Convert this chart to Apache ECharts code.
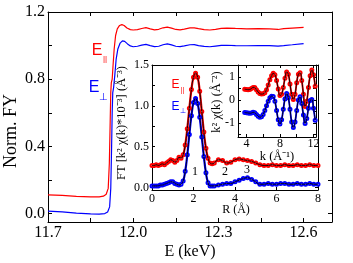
<!DOCTYPE html>
<html><head><meta charset="utf-8">
<script src="https://cdn.jsdelivr.net/npm/echarts@6/dist/echarts.min.js"></script>
<style>html,body{margin:0;padding:0;background:#fff}#c{width:353px;height:263px}</style>
</head><body><div id="c"></div>
<script>
// ---- Main XANES (E in keV, normalized FY) ----
const xanesPar = [[11.70,0.112],[11.75,0.108],[11.80,0.103],[11.85,0.100],[11.88,0.100],[11.895,0.104],[11.905,0.115],[11.912,0.15],[11.916,0.30],[11.919,0.55],[11.921,0.72],[11.923,0.78],[11.926,0.80],[11.929,0.88],[11.933,0.98],[11.938,1.06],[11.944,1.10],[11.952,1.12],[11.960,1.125],[11.968,1.12],[11.978,1.105],[11.99,1.095],[12.00,1.093],[12.015,1.095],[12.03,1.102],[12.045,1.107],[12.06,1.100],[12.075,1.094],[12.09,1.097],[12.105,1.106],[12.12,1.110],[12.135,1.104],[12.15,1.096],[12.165,1.094],[12.18,1.098],[12.20,1.105],[12.215,1.106],[12.23,1.101],[12.25,1.095],[12.27,1.093],[12.29,1.097],[12.31,1.102],[12.33,1.104],[12.36,1.102],[12.40,1.100],[12.44,1.101],[12.48,1.100],[12.51,1.096],[12.53,1.101],[12.56,1.104],[12.60,1.108]];
const xanesPerp = [[11.70,0.015],[11.75,0.010],[11.80,0.003],[11.85,-0.002],[11.88,-0.003],[11.90,0.000],[11.91,0.010],[11.917,0.04],[11.921,0.15],[11.924,0.40],[11.926,0.60],[11.928,0.72],[11.931,0.75],[11.935,0.82],[11.940,0.92],[11.946,0.98],[11.954,1.015],[11.962,1.028],[11.970,1.025],[11.980,1.010],[11.99,0.998],[12.00,0.993],[12.015,0.996],[12.03,1.003],[12.045,1.007],[12.06,1.000],[12.075,0.994],[12.09,0.996],[12.105,1.005],[12.12,1.010],[12.135,1.004],[12.15,0.996],[12.165,0.994],[12.18,0.998],[12.20,1.005],[12.215,1.006],[12.23,1.000],[12.25,0.995],[12.27,0.993],[12.29,0.997],[12.31,1.001],[12.33,1.002],[12.36,1.000],[12.40,0.999],[12.44,1.000],[12.48,1.000],[12.51,0.997],[12.53,1.000],[12.56,1.005],[12.60,1.012]];

// ---- FT inset (R in Angstrom) ----
const ftR    = [0.0,0.1,0.2,0.3,0.4,0.5,0.6,0.7,0.8,0.9,1.0,1.1,1.2,1.3,1.4,1.5,1.6,1.7,1.8,1.9,2.0,2.1,2.2,2.3,2.4,2.5,2.6,2.7,2.8,2.9,3.0,3.2,3.4,3.6,3.8,4.0,4.2,4.4,4.6,4.8,5.0,5.2,5.4,5.6,5.8,6.0,6.2,6.4,6.6,6.8,7.0,7.2,7.4,7.6,7.8,8.0];
const ftPar  = [0.27,0.27,0.28,0.27,0.28,0.29,0.28,0.30,0.32,0.34,0.33,0.31,0.33,0.37,0.36,0.40,0.52,0.72,0.97,1.20,1.35,1.40,1.35,1.18,0.93,0.68,0.48,0.36,0.30,0.29,0.30,0.34,0.33,0.30,0.31,0.34,0.35,0.34,0.33,0.32,0.30,0.28,0.27,0.27,0.28,0.27,0.27,0.28,0.27,0.27,0.28,0.27,0.27,0.28,0.27,0.27];
const ftPerp = [0.02,0.02,0.02,0.02,0.03,0.03,0.04,0.05,0.06,0.07,0.07,0.05,0.04,0.03,0.04,0.08,0.20,0.40,0.65,0.88,1.04,1.09,1.03,0.86,0.62,0.38,0.18,0.06,0.02,0.02,0.02,0.03,0.04,0.05,0.05,0.07,0.09,0.11,0.12,0.10,0.07,0.04,0.04,0.05,0.04,0.04,0.05,0.05,0.04,0.04,0.05,0.04,0.04,0.05,0.04,0.04];

// ---- k-space inset ----
const kVals  = [3.8,4.0,4.2,4.4,4.6,4.8,5.0,5.2,5.4,5.6,5.8,6.0,6.2,6.4,6.6,6.8,7.0,7.2,7.4,7.6,7.8,8.0,8.2,8.4,8.6,8.8,9.0,9.2,9.4,9.6,9.8,10.0,10.2,10.4,10.6,10.8,11.0,11.2,11.4,11.6,11.8,12.0,12.2];
const kPar   = [0.47,0.46,0.45,0.46,0.50,0.55,0.54,0.45,0.35,0.28,0.26,0.27,0.32,0.45,0.65,0.88,1.05,1.16,1.10,0.85,0.48,0.20,0.25,0.55,0.95,1.22,1.12,0.70,0.25,0.03,0.25,0.75,1.12,1.18,0.85,0.25,-0.28,-0.05,0.55,1.05,1.30,1.10,0.60];
const kPerp  = [-0.54,-0.55,-0.56,-0.57,-0.56,-0.53,-0.55,-0.62,-0.70,-0.74,-0.72,-0.62,-0.45,-0.25,-0.05,0.10,0.17,0.15,-0.05,-0.45,-0.85,-1.04,-0.85,-0.40,0.05,0.28,0.10,-0.40,-0.95,-1.19,-0.95,-0.45,0.00,0.14,-0.15,-0.65,-1.01,-0.80,-0.35,-0.02,0.03,-0.35,-0.87];

// ---- ticks ----
const mainXTicks  = [11.7,11.85,12.0,12.15,12.3,12.45,12.6];
const mainXLabels = [11.7,12.0,12.3,12.6];
const mainYTicks  = [0,0.2,0.4,0.6,0.8,1.0,1.2];
const mainYLabels = [0,0.4,0.8,1.2];
const ftXTicks  = [0,2,4,6,8];
const ftXLabels = [0,2,4,6,8];
const ftYTicks  = [0,0.25,0.5,0.75,1.0,1.25,1.5];
const ftYLabels = [0,0.5,1.0,1.5];
const kXTicks  = [4,6,8,10,12];
const kXLabels = [4,8,12];
const kYTicks  = [-1.5,-1,-0.5,0,0.5,1,1.5];
const kYLabels = [-1,0,1];

const RED = '#ff0000', BLUE = '#0000ff', SERIF = 'Liberation Serif', SANS = 'Liberation Sans';
const zip = (a,b) => a.map((v,i)=>[v,b[i]]);

function axis(o){
  return {
    type:'value', gridIndex:o.g, min:o.min, max:o.max, position:o.pos,
    axisLine:{show:true,onZero:false,lineStyle:{color:'#000',width:1}},
    axisTick:{show:true,inside:true,length:o.tl||4,customValues:o.ticks,lineStyle:{color:'#000',width:1}},
    axisLabel:{show:!!o.labels,customValues:o.labels||[],formatter:o.fmt,fontFamily:SERIF,fontSize:o.fs||16,color:'#000',margin:o.m||3},
    splitLine:{show:false}
  };
}
const f1 = v => (Math.abs(v)<1e-9?0:v).toFixed(1);
const f0 = v => String(Math.round(v));

const chart = echarts.init(document.getElementById('c'), null, {renderer:'canvas'});
chart.setOption({
  animation:false,
  backgroundColor:'#fff',
  textStyle:{fontFamily:SERIF},
  grid:[
    {left:48, top:12, right:21, bottom:41},
    {left:152, top:65, right:35, bottom:73, show:true, backgroundColor:'#fff', borderWidth:0},
    {left:238, top:65, right:37, bottom:126, show:true, backgroundColor:'#fff', borderWidth:0}
  ],
  xAxis:[
    axis({g:0,min:11.7,max:12.7,pos:'bottom',ticks:mainXTicks,labels:mainXLabels,fmt:f1,fs:16,m:3}),
    axis({g:0,min:11.7,max:12.7,pos:'top',ticks:mainXTicks}),
    axis({g:1,min:0,max:8,pos:'bottom',ticks:ftXTicks,labels:ftXLabels,fmt:f0,fs:12,m:3,tl:3}),
    axis({g:1,min:0,max:8,pos:'top',ticks:[0,2],tl:3}),
    axis({g:2,min:3,max:12.3,pos:'bottom',ticks:kXTicks,labels:kXLabels,fmt:f0,fs:12,m:1,tl:3}),
    axis({g:2,min:3,max:12.3,pos:'top',ticks:kXTicks,tl:3})
  ],
  yAxis:[
    axis({g:0,min:-0.05,max:1.2,pos:'left',ticks:mainYTicks,labels:mainYLabels,fmt:f1,fs:16,m:3}),
    axis({g:0,min:-0.05,max:1.2,pos:'right',ticks:mainYTicks}),
    axis({g:1,min:-0.03,max:1.5,pos:'left',ticks:ftYTicks,labels:ftYLabels,fmt:f1,fs:12,m:3,tl:3}),
    axis({g:1,min:-0.03,max:1.5,pos:'right',ticks:[0,0.5],tl:3}),
    axis({g:2,min:-1.6,max:1.52,pos:'left',ticks:kYTicks,labels:kYLabels,fmt:f0,fs:12,m:3,tl:3}),
    axis({g:2,min:-1.6,max:1.52,pos:'right',ticks:kYTicks,tl:3})
  ],
  series:[
    {type:'line',xAxisIndex:0,yAxisIndex:0,data:xanesPar,showSymbol:false,lineStyle:{color:RED,width:1.2},z:3},
    {type:'line',xAxisIndex:0,yAxisIndex:0,data:xanesPerp,showSymbol:false,lineStyle:{color:BLUE,width:1.2},z:3},
    {type:'line',xAxisIndex:2,yAxisIndex:2,data:zip(ftR,ftPar),symbol:'emptyCircle',symbolSize:3,smooth:true,itemStyle:{color:RED,borderWidth:1},lineStyle:{color:RED,width:2.2},z:3},
    {type:'line',xAxisIndex:2,yAxisIndex:2,data:zip(ftR,ftPerp),symbol:'emptyCircle',symbolSize:3,smooth:true,itemStyle:{color:BLUE,borderWidth:1},lineStyle:{color:BLUE,width:2.2},z:3},
    {type:'line',xAxisIndex:2,yAxisIndex:2,data:zip(ftR,ftPar),showSymbol:false,smooth:true,lineStyle:{color:'#000',width:0.9},z:4},
    {type:'line',xAxisIndex:2,yAxisIndex:2,data:zip(ftR,ftPerp),showSymbol:false,smooth:true,lineStyle:{color:'#000',width:0.9},z:4},
    {type:'line',xAxisIndex:4,yAxisIndex:4,data:zip(kVals,kPar),symbol:'emptyCircle',symbolSize:3,smooth:true,itemStyle:{color:RED,borderWidth:1},lineStyle:{color:RED,width:1.8},z:5},
    {type:'line',xAxisIndex:4,yAxisIndex:4,data:zip(kVals,kPerp),symbol:'emptyCircle',symbolSize:3,smooth:true,itemStyle:{color:BLUE,borderWidth:1},lineStyle:{color:BLUE,width:1.8},z:5},
    {type:'line',xAxisIndex:4,yAxisIndex:4,data:zip(kVals,kPar),showSymbol:false,smooth:true,lineStyle:{color:'#000',width:0.9},z:6},
    {type:'line',xAxisIndex:4,yAxisIndex:4,data:zip(kVals,kPerp),showSymbol:false,smooth:true,lineStyle:{color:'#000',width:0.9},z:6}
  ],
  graphic:[
    {type:'text',x:11,y:131,rotation:Math.PI/2,z:100,style:{text:'Norm. FY',fontFamily:SERIF,fontSize:18,fill:'#000',align:'center',verticalAlign:'middle'}},
    {type:'text',x:190,y:252,z:100,style:{text:'E (keV)',fontFamily:SERIF,fontSize:16,fill:'#000',align:'center',verticalAlign:'middle'}},
    {type:'text',x:97,y:51,z:100,style:{text:'E',fontFamily:SANS,fontSize:16,fill:RED,align:'center',verticalAlign:'middle'}},
    {type:'text',x:105,y:59,z:100,style:{text:'||',fontFamily:SANS,fontSize:8,fill:RED,align:'center',verticalAlign:'middle'}},
    {type:'text',x:94,y:88,z:100,style:{text:'E',fontFamily:SANS,fontSize:16,fill:BLUE,align:'center',verticalAlign:'middle'}},
    {type:'text',x:103,y:97,z:100,style:{text:'⊥',fontFamily:SANS,fontSize:10,fill:BLUE,align:'center',verticalAlign:'middle'}},
    {type:'text',x:175.5,y:84.5,z:100,style:{text:'E',fontFamily:SANS,fontSize:12,fill:RED,align:'center',verticalAlign:'middle'}},
    {type:'text',x:182.5,y:90,z:100,style:{text:'||',fontFamily:SANS,fontSize:7,fill:RED,align:'center',verticalAlign:'middle'}},
    {type:'text',x:175.5,y:106.5,z:100,style:{text:'E',fontFamily:SANS,fontSize:12,fill:BLUE,align:'center',verticalAlign:'middle'}},
    {type:'text',x:182.5,y:111,z:100,style:{text:'⊥',fontFamily:SANS,fontSize:7,fill:BLUE,align:'center',verticalAlign:'middle'}},
    {type:'text',x:195,y:172,z:100,style:{text:'1',fontFamily:SERIF,fontSize:12,fill:'#000',align:'center',verticalAlign:'middle'}},
    {type:'text',x:225,y:172,z:100,style:{text:'2',fontFamily:SERIF,fontSize:12,fill:'#000',align:'center',verticalAlign:'middle'}},
    {type:'text',x:247,y:170,z:100,style:{text:'3',fontFamily:SERIF,fontSize:12,fill:'#000',align:'center',verticalAlign:'middle'}},
    {type:'text',x:236,y:210,z:100,style:{text:'R (Å)',fontFamily:SERIF,fontSize:12,fill:'#000',align:'center',verticalAlign:'middle'}},
    {type:'text',x:277,y:157,z:100,style:{text:'k (Å⁻¹)',fontFamily:SERIF,fontSize:12.5,fill:'#000',align:'center',verticalAlign:'middle'}},
    {type:'text',x:122,y:123,rotation:Math.PI/2,z:100,style:{text:'FT [k² χ(k)*10⁻³] (Å⁻³)',fontFamily:SERIF,fontSize:12.5,fill:'#000',align:'center',verticalAlign:'middle'}},
    {type:'text',x:217,y:102,rotation:Math.PI/2,z:100,style:{text:'k² χ(k) (Å⁻²)',fontFamily:SERIF,fontSize:12.5,fill:'#000',align:'center',verticalAlign:'middle'}}
  ]
});
</script></body></html>
